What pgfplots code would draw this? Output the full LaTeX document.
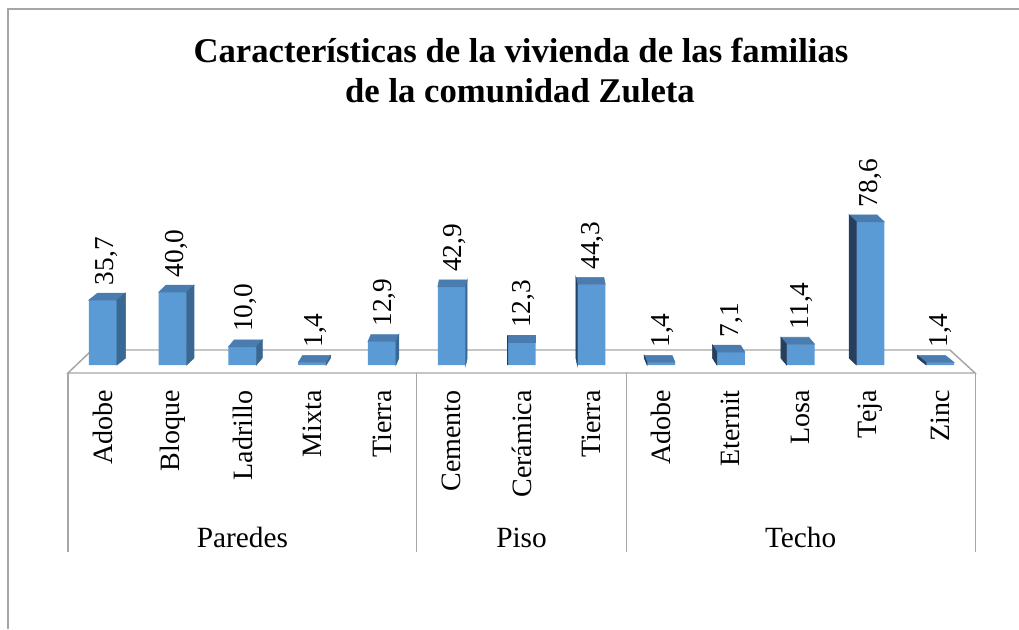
\documentclass[border=0pt]{standalone}
\usepackage{pgfplots}
\pgfplotsset{compat=1.18}
\usepackage{fontspec}
\setmainfont{Liberation Serif}
\definecolor{barfront}{HTML}{5B9BD5}
\definecolor{bartop}{HTML}{4A7CB0}
\definecolor{barside}{HTML}{3A6894}
\definecolor{barsideL}{HTML}{253F5E}
\definecolor{frame}{HTML}{A6A6A6}
\begin{document}
\begin{tikzpicture}
\path[use as bounding box] (0,0) rectangle (764.25pt,471.75pt);
\draw[frame, line width=1.1pt] (6pt,0) -- (6pt,465pt) -- (764.25pt,465pt);
\node[anchor=base, inner sep=0pt, font=\fontsize{26}{30}\selectfont\bfseries] at (390.75pt,424.5pt) {Características de la vivienda de las familias};
\node[anchor=base, inner sep=0pt, font=\fontsize{26}{30}\selectfont\bfseries] at (390pt,394.5pt) {de la comunidad Zuleta};
\begin{axis}[
  at={(51pt,198pt)}, anchor=south west,
  x=52.33pt, y=1.365pt,
  xmin=-0.5, xmax=12.5, ymin=0, ymax=100,
  axis x line=bottom, axis y line=none,
  x axis line style={draw=none},
  xtick={0,...,12},
  xticklabels={Adobe,Bloque,Ladrillo,Mixta,Tierra,Cemento,Cerámica,Tierra,Adobe,Eternit,Losa,Teja,Zinc},
  xticklabel style={rotate=90, anchor=east, inner sep=0pt, font=\fontsize{21}{24}\selectfont},
  xticklabel shift=18.75pt,
  major tick length=0pt,
  ytick=\empty,
  clip=false,
]
% floor
\draw[frame, line width=1.1pt] (axis cs:-0.5,-4.4) -- (axis cs:12.5,-4.4) -- (axis cs:12.14,8.24) -- (axis cs:-0.156,8.24) -- cycle;
% group separators
\draw[frame, line width=0.8pt] (axis cs:-0.5,-4.4) -- (axis cs:-0.5,-102.7);
\draw[frame, line width=0.8pt] (axis cs:4.5,-4.4) -- (axis cs:4.5,-102.7);
\draw[frame, line width=0.8pt] (axis cs:7.5,-4.4) -- (axis cs:7.5,-102.7);
\draw[frame, line width=0.8pt] (axis cs:12.5,-4.4) -- (axis cs:12.5,-102.7);
\node[anchor=base, font=\fontsize{22}{26}\selectfont] at (axis cs:2,-100) {Paredes};
\node[anchor=base, font=\fontsize{22}{26}\selectfont] at (axis cs:6,-100) {Piso};
\node[anchor=base, font=\fontsize{22}{26}\selectfont] at (axis cs:10,-100) {Techo};

\addplot[ybar, bar width=21pt, fill=barfront, draw=none,
  visualization depends on={rawx \as \lx},
  nodes near coords={\pgfmathprintnumber[fixed,fixed zerofill,precision=1,use comma,assume math mode=true]{\pgfplotspointmeta}},
  every node near coord/.append style={rotate=90, anchor=west, inner sep=0pt, xshift=11pt, yshift={-(1.5+0.25*(6-\lx))}, text=black, font=\fontsize{20.5}{24}\selectfont}]
coordinates {(0,35.7) (1,40.0) (2,10.0) (3,1.4) (4,12.9) (5,42.9) (6,12.3) (7,44.3) (8,1.4) (9,7.1) (10,11.4) (11,78.6) (12,1.4)};

\addplot[only marks, scatter, mark=*, mark size=0pt, mark options={draw=none,fill=none},
  visualization depends on={rawx \as \vx},
  visualization depends on={rawy \as \vy},
  scatter/@pre marker code/.code={%
    \pgfmathsetmacro\dx{-1.1*(\vx-6)}%
    \pgfmathsetmacro\hh{1.365*\vy}%
    \pgfmathsetmacro\xa{10.5+\dx}%
    \pgfmathsetmacro\xb{-10.5+\dx}%
    \pgfmathsetmacro\yb{5.25-\hh}%
    \fill[bartop] (-10.5pt,0pt) -- (10.5pt,0pt) -- (\xa pt,5.25pt) -- (\xb pt,5.25pt) -- cycle;
    \ifdim\dx pt>0pt
      \fill[barside] (10.5pt,0pt) -- (10.5pt,-\hh pt) -- (\xa pt,\yb pt) -- (\xa pt,5.25pt) -- cycle;
    \else
      \fill[barsideL] (-10.5pt,0pt) -- (-10.5pt,-\hh pt) -- (\xb pt,\yb pt) -- (\xb pt,5.25pt) -- cycle;
    \fi
  },
  scatter/@post marker code/.code={}]
coordinates {(0,35.7) (1,40.0) (2,10.0) (3,1.4) (4,12.9) (5,42.9) (6,12.3) (7,44.3) (8,1.4) (9,7.1) (10,11.4) (11,78.6) (12,1.4)};
\end{axis}
\end{tikzpicture}
\end{document}
